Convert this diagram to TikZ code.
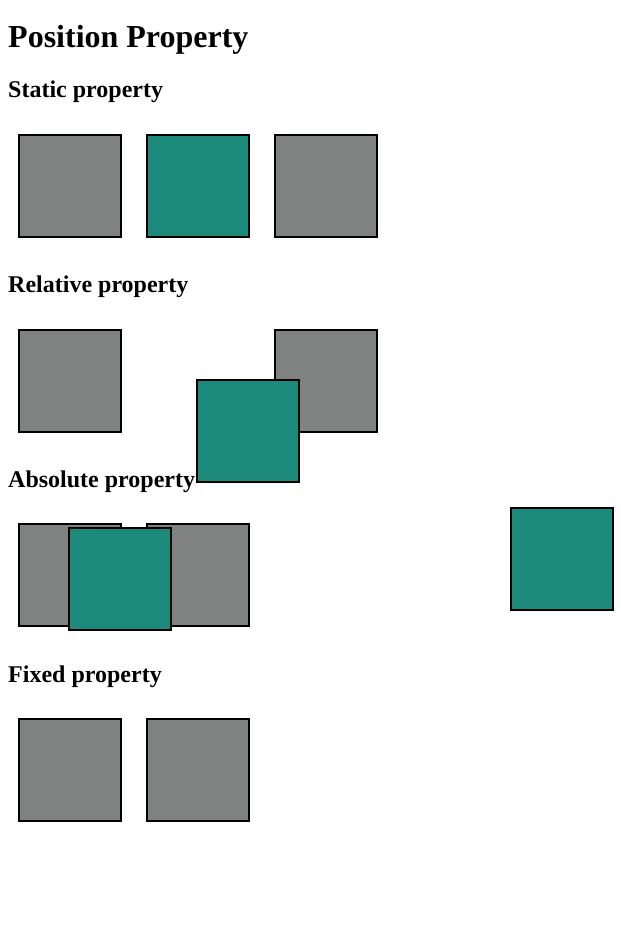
\documentclass[tikz,border=0pt]{standalone}
\usepackage{fontspec}
\setmainfont{Liberation Serif}
\definecolor{boxgray}{HTML}{7F8281}
\definecolor{boxteal}{HTML}{1C8A7A}
\begin{document}
\begin{tikzpicture}[x=1pt,y=-1pt,
  sq/.style={draw=black,line width=2pt,minimum size=102pt,inner sep=0pt,outer sep=0pt},
  gbox/.style={sq,fill=boxgray},
  tbox/.style={sq,fill=boxteal},
  htitle/.style={anchor=base west,inner sep=0pt,font=\fontsize{32}{38}\selectfont\bfseries},
  hsub/.style={anchor=base west,inner sep=0pt,font=\fontsize{24}{28}\selectfont\bfseries}]
\useasboundingbox[fill=white] (0,0) rectangle (621,927);
\node[htitle] (title) at (8,47) {Position Property};
% Static
\node[hsub] (hstatic) at (8,97.5) {Static property};
\node[gbox] (s1) at (70,186) {};
\node[tbox] (s2) at (198,186) {};
\node[gbox] (s3) at (326,186) {};
% Relative
\node[hsub] (hrel) at (8,292.5) {Relative property};
\node[gbox] (r1) at (70,381) {};
\node[gbox] (r3) at (326,381) {};
% Absolute
\node[hsub] (habs) at (8,487.5) {Absolute property};
\node[tbox] (r2) at (248,431) {};
\node[gbox] (a1) at (70,575) {};
\node[gbox] (a2) at (198,575) {};
\node[tbox] (a3) at (120,579) {};
\node[tbox] (fx) at (562,559) {};
% Fixed
\node[hsub] (hfix) at (8,682.5) {Fixed property};
\node[gbox] (f1) at (70,770) {};
\node[gbox] (f2) at (198,770) {};
\end{tikzpicture}
\end{document}
